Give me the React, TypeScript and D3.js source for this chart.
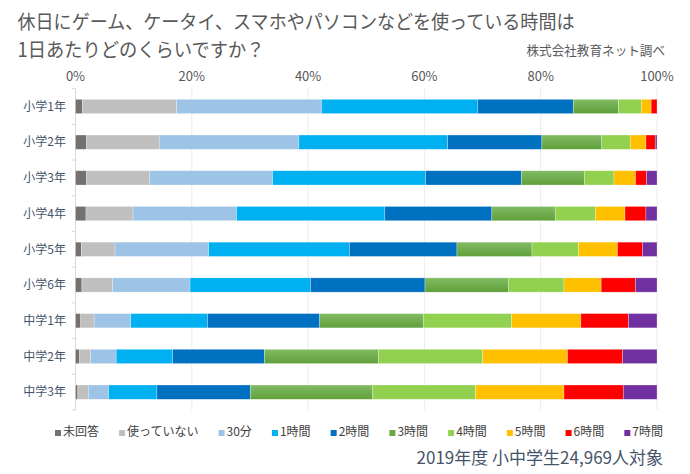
import React, { useEffect, useRef } from "react";
import * as d3 from "d3";

const CATEGORIES = ["小学1年", "小学2年", "小学3年", "小学4年", "小学5年", "小学6年", "中学1年", "中学2年", "中学3年"];
const SERIES = ["未回答", "使っていない", "30分", "1時間", "2時間", "3時間", "4時間", "5時間", "6時間", "7時間"];
const COLORS = ["#767171", "#bfbfbf", "#9dc3e6", "#00b0f0", "#0070c0", "url(#g3)", "#92d050", "#ffc000", "#ff0000", "#7030a0"];
const LEGEND_COLORS = ["#767171", "#bfbfbf", "#9dc3e6", "#00b0f0", "#0070c0", "#6aaa44", "#92d050", "#ffc000", "#ff0000", "#7030a0"];

const V_NONE = [1.2, 1.9, 1.9, 1.8, 1.0, 1.1, 0.9, 0.7, 0.4];
const V_UNUSED = [16.2, 12.5, 10.8, 8.1, 5.8, 5.3, 2.3, 1.9, 1.8];
const V_30M = [24.9, 24.0, 21.2, 17.8, 16.1, 13.3, 6.3, 4.4, 3.5];
const V_1H = [26.9, 25.6, 26.3, 25.5, 24.2, 20.7, 13.2, 9.7, 8.3];
const V_2H = [16.4, 16.2, 16.5, 18.4, 18.5, 19.7, 19.3, 15.8, 16.1];
const V_3H = [7.8, 10.3, 10.8, 10.9, 12.9, 14.4, 17.8, 19.6, 21.0];
const V_4H = [3.9, 4.9, 5.1, 6.9, 8.0, 9.5, 15.2, 17.9, 17.7];
const V_5H = [1.7, 2.7, 3.7, 5.1, 6.7, 6.4, 11.9, 14.6, 15.2];
const V_6H = [1.0, 1.6, 1.9, 3.6, 4.3, 5.9, 8.2, 9.5, 10.2];
const V_7H = [0.0, 0.3, 1.8, 1.9, 2.5, 3.7, 4.9, 5.9, 5.8];
const VALUES = [V_NONE, V_UNUSED, V_30M, V_1H, V_2H, V_3H, V_4H, V_5H, V_6H, V_7H];

const X_TICKS = [0, 20, 40, 60, 80, 100];
const TITLE_1 = "休日にゲーム、ケータイ、スマホやパソコンなどを使っている時間は";
const TITLE_2 = "1日あたりどのくらいですか？";
const SOURCE = "株式会社教育ネット調べ";
const FOOTER = "2019年度 小中学生24,969人対象";

const W = 690;
const H = 474;
const FONT = "'Noto Sans CJK JP', 'Noto Sans', sans-serif";

export default function App() {
  const ref = useRef<SVGSVGElement>(null);

  useEffect(() => {
    const svg = d3.select(ref.current);
    svg.selectAll("*").remove();

    const defs = svg.append("defs");
    const g3 = defs.append("linearGradient").attr("id", "g3").attr("x1", 0).attr("y1", 0).attr("x2", 0).attr("y2", 1);
    g3.append("stop").attr("offset", "0%").attr("stop-color", "#82bb64");
    g3.append("stop").attr("offset", "100%").attr("stop-color", "#5fa03a");

    const x = d3.scaleLinear().domain([0, 100]).range([75.5, 657]);
    const y = d3.scaleBand<string>().domain(CATEGORIES).range([88.6, 410]).paddingInner(0.6).paddingOuter(0.3);

    // titles
    svg.append("text").attr("x", 17.5).attr("y", 28.5).attr("font-size", 19.5).attr("fill", "#595959")
      .attr("textLength", 557).attr("lengthAdjust", "spacingAndGlyphs").text(TITLE_1);
    svg.append("text").attr("x", 17.5).attr("y", 57).attr("font-size", 19.5).attr("fill", "#595959")
      .attr("textLength", 247).attr("lengthAdjust", "spacingAndGlyphs").text(TITLE_2);
    svg.append("text").attr("x", 665).attr("y", 55).attr("font-size", 12.6).attr("fill", "#595959")
      .attr("text-anchor", "end").text(SOURCE);

    // gridlines
    svg.append("g").selectAll("line").data(X_TICKS.slice(1)).join("line")
      .attr("x1", (d) => x(d)).attr("x2", (d) => x(d)).attr("y1", 88).attr("y2", 410)
      .attr("stroke", "#ececec").attr("stroke-width", 1);

    // tick labels
    svg.append("g").selectAll("text").data(X_TICKS).join("text")
      .attr("x", (d) => x(d)).attr("y", 81).attr("text-anchor", "middle")
      .attr("font-size", 13).attr("fill", "#595959").text((d) => `${d}%`);

    // left axis
    svg.append("line").attr("x1", x(0)).attr("x2", x(0)).attr("y1", 88).attr("y2", 410)
      .attr("stroke", "#d9d9d9").attr("stroke-width", 1);
    const step = y.step();
    const bounds = d3.range(CATEGORIES.length + 1).map((i) => 88.6 + i * step);
    svg.append("g").selectAll("line").data(bounds).join("line")
      .attr("x1", x(0) - 4).attr("x2", x(0)).attr("y1", (d) => d).attr("y2", (d) => d)
      .attr("stroke", "#d9d9d9").attr("stroke-width", 1);

    // category labels
    svg.append("g").selectAll("text").data(CATEGORIES).join("text")
      .attr("x", 66).attr("y", (d) => (y(d) as number) + y.bandwidth() / 2 + 4.3)
      .attr("text-anchor", "end").attr("font-size", 12).attr("fill", "#44546a").text((d) => d);

    // stacked bars
    const rows = CATEGORIES.map((c, i) => {
      const o: any = { cat: c };
      SERIES.forEach((s, j) => (o[s] = VALUES[j][i]));
      return o;
    });
    const stacked = d3.stack<any>().keys(SERIES)(rows);
    const bars = svg.append("g");
    stacked.forEach((layer, j) => {
      bars.append("g").attr("fill", COLORS[j]).selectAll("rect").data(layer).join("rect")
        .attr("x", (d) => x(d[0]))
        .attr("width", (d) => Math.max(0, x(d[1]) - x(d[0])))
        .attr("y", (d) => y(d.data.cat) as number)
        .attr("height", y.bandwidth())
        .attr("stroke", "#ffffff").attr("stroke-opacity", 0.45).attr("stroke-width", 0.6);
    });

    // legend (justified between 55 and 663)
    const lg = svg.append("g");
    const items = SERIES.map((s, j) => {
      const gi = lg.append("g");
      gi.append("rect").attr("width", 6).attr("height", 6).attr("y", -6).attr("fill", LEGEND_COLORS[j]);
      const t = gi.append("text").attr("x", 8).attr("font-size", 12).attr("fill", "#404040").text(s);
      const w = 8 + (t.node() as SVGTextElement).getComputedTextLength();
      return { gi, w };
    });
    const total = d3.sum(items, (d) => d.w);
    const gap = (663 - 55 - total) / (items.length - 1);
    let cx = 55;
    items.forEach((it) => {
      it.gi.attr("transform", `translate(${cx},436)`);
      cx += it.w + gap;
    });

    // footer
    svg.append("text").attr("x", 663).attr("y", 464).attr("text-anchor", "end")
      .attr("font-size", 17).attr("fill", "#44546a").text(FOOTER);
  }, []);

  return (
    <svg
      ref={ref}
      width={W}
      height={H}
      style={{ position: "absolute", left: 0, top: 0, fontFamily: FONT, background: "#fff" }}
    />
  );
}
